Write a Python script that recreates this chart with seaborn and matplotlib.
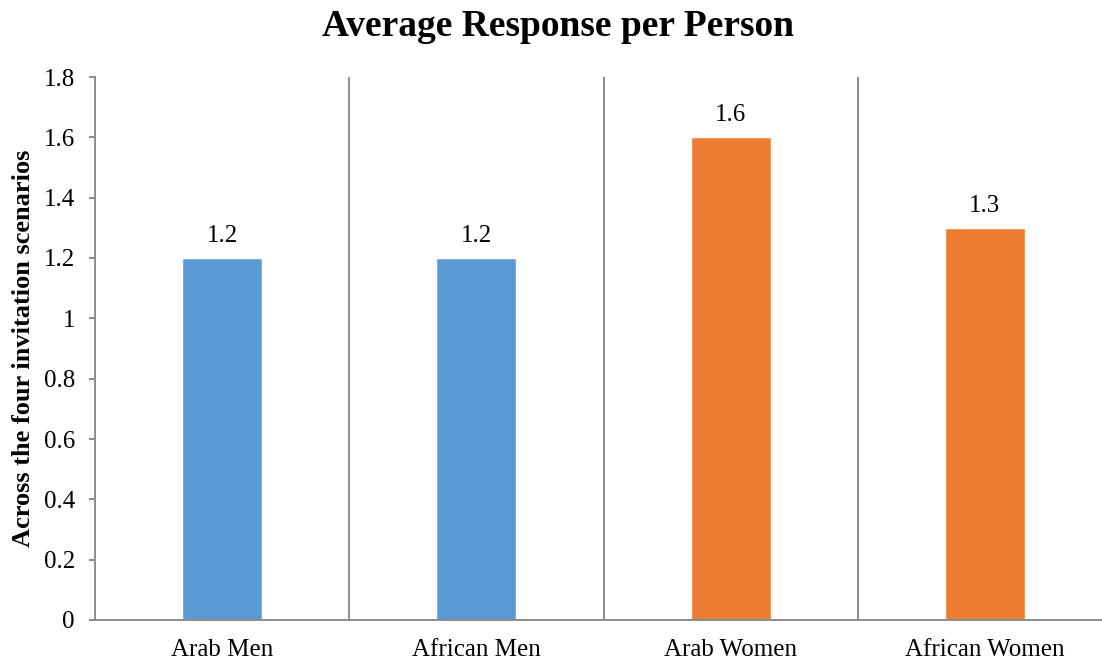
import matplotlib
matplotlib.use("Agg")
import matplotlib.pyplot as plt
import seaborn as sns
import pandas as pd

# Chart data
groups = ["Arab Men", "African Men", "Arab Women", "African Women"]
responses = [1.2, 1.2, 1.6, 1.3]
bar_colors = ["#5B9BD5", "#5B9BD5", "#ED7D31", "#ED7D31"]
y_ticks = [0, 0.2, 0.4, 0.6, 0.8, 1.0, 1.2, 1.4, 1.6, 1.8]
y_tick_labels = ["0", "0.2", "0.4", "0.6", "0.8", "1", "1.2", "1.4", "1.6", "1.8"]

sns.set_theme(style="white")
plt.rcParams["font.family"] = ["Liberation Serif", "DejaVu Serif"]
plt.rcParams["text.color"] = "black"

df = pd.DataFrame({"group": groups, "response": responses})

fig = plt.figure(figsize=(11.02, 6.62), dpi=100)
W, H = 1102, 662
ax = fig.add_axes([95 / W, (H - 620) / H, (1112 - 95) / W, (620 - 77) / H])

sns.barplot(data=df, x="group", y="response", hue="group",
            palette=bar_colors, width=0.315, legend=False, ax=ax,
            saturation=1)

axis_grey = "#8c8c8c"
ax.set_xlim(-0.5, len(groups) - 0.5)
ax.set_ylim(0, 1.8)
ax.set_yticks(y_ticks)
ax.set_yticklabels(y_tick_labels)

# Vertical dividers between categories
for i in range(len(groups) - 1):
    ax.axvline(i + 0.5, color=axis_grey, lw=1.4, zorder=0)

for side in ["top", "right"]:
    ax.spines[side].set_visible(False)
for side in ["left", "bottom"]:
    ax.spines[side].set_color(axis_grey)
    ax.spines[side].set_linewidth(1.4)

ax.tick_params(axis="y", which="major", left=True, length=4.5, width=1.4,
               color=axis_grey, pad=10, labelsize=18, labelcolor="black")
ax.tick_params(axis="x", bottom=False, pad=8, labelsize=18, labelcolor="black")

ax.set_xlabel("")
ax.set_ylabel("Across the four invitation scenarios", fontsize=19,
              fontweight="bold", labelpad=6, color="black")

# Value labels above bars
for container in ax.containers:
    ax.bar_label(container, labels=[f"{v.get_height():.1f}" for v in container],
                 padding=8, fontsize=18, color="black")

fig.text(558 / W, 1 - 27 / H, "Average Response per Person", ha="center",
         va="center", fontsize=27, fontweight="bold", color="black")

fig.savefig("out.png", dpi=100)
